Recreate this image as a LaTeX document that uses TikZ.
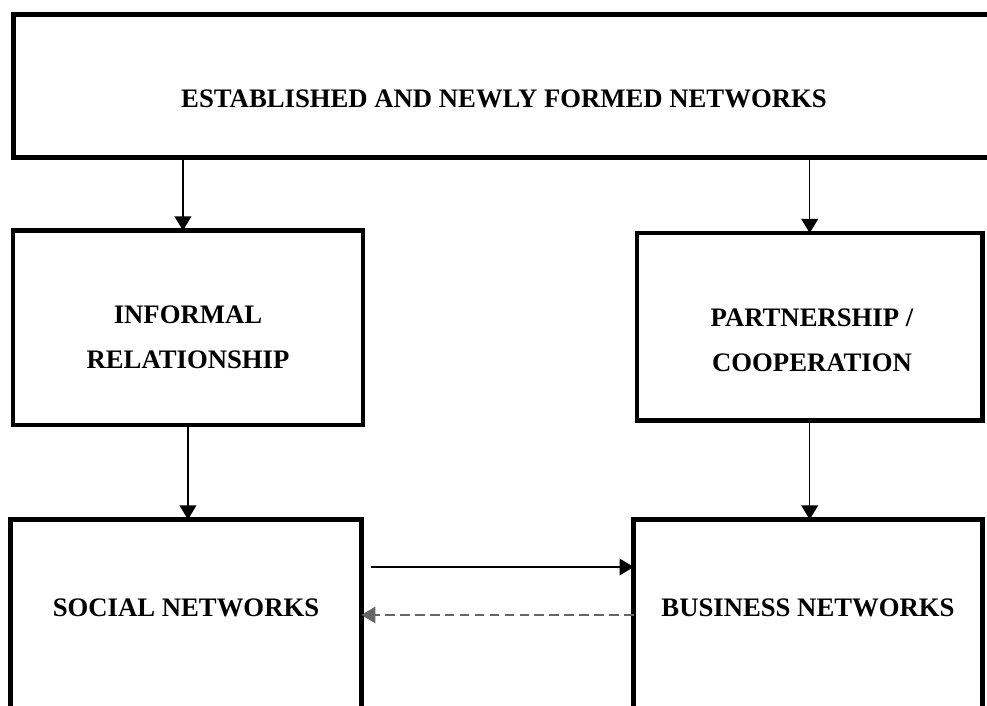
\documentclass[tikz,border=0pt]{standalone}
\usepackage{fontspec}
\setmainfont{Liberation Serif}
\usetikzlibrary{arrows.meta}

\begin{document}
\begin{tikzpicture}[
		x=0.02cm, y=-0.02cm,
		frame/.style={rectangle, draw, line width=2.6pt, inner sep=0pt, outer sep=0pt, anchor=north west},
		caption/.style={font=\bfseries\fontsize{15.2}{25.8}\selectfont, align=center},
		link/.style={-{Triangle[length=8pt,width=9.5pt]}, line width=0.75pt},
		backlink/.style={link, dash pattern=on 5.5pt off 3pt, black!60}
	]
	\path[use as bounding box, clip] (0,0) rectangle (987,706);

	\node[frame, minimum width=19.63cm, minimum height=2.86cm] (est) at (13.5,14.5) {};
	\node[frame, minimum width=7cm, minimum height=3.89cm] (inf) at (13,230.5) {};
	\node[frame, minimum width=6.91cm, minimum height=3.75cm] (par) at (637,233) {};
	\node[frame, minimum width=7.02cm, minimum height=4.81cm] (soc) at (10.5,519.5) {};
	\node[frame, minimum width=6.98cm, minimum height=4.81cm] (bus) at (633.7,519.5) {};

	\node[caption] (esttext) at (504,98.5) {ESTABLISHED AND NEWLY FORMED NETWORKS};
	\node[caption] (inftext) at (188,337) {INFORMAL\\RELATIONSHIP};
	\node[caption] (partext) at (812,340) {PARTNERSHIP /\\COOPERATION};
	\node[caption] (soctext) at (186,608) {SOCIAL NETWORKS};
	\node[caption] (bustext) at (808,608) {BUSINESS NETWORKS};

	\draw[link] ([xshift=-0.1cm]est.south -| inf.north) -- ([xshift=-0.1cm]inf.north);
	\draw[link] (est.south -| par.north) -- (par.north);
	\draw[link] (inf.south) -- (inf.south |- soc.north);
	\draw[link] (par.south) -- (par.south |- bus.north);
	\draw[link] ([xshift=0.19cm,yshift=-0.95cm]soc.north east) -- ([yshift=-0.95cm]bus.north west);
	\draw[backlink] ([yshift=-1.91cm]bus.north west) -- ([yshift=-1.91cm]soc.north east);
\end{tikzpicture}
\end{document}
